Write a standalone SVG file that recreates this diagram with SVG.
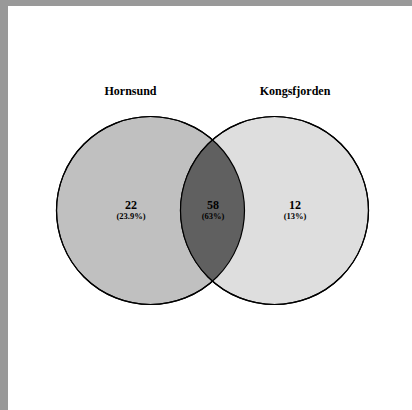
<svg xmlns="http://www.w3.org/2000/svg" width="412" height="410" viewBox="0 0 412 410">
<style>
.t{font-family:"Liberation Serif","Times New Roman",serif;font-weight:bold;text-anchor:middle;fill:#000}
.lbl{font-size:12px}
.num{font-size:12px}
.pct{font-size:8.5px}
.c{stroke:#000;stroke-width:1.2}
</style>
<defs>
<clipPath id="clipL"><circle cx="150.5" cy="210.5" r="94"/></clipPath>
</defs>
<rect x="0" y="0" width="412" height="410" fill="#999999"/>
<rect x="8" y="6" width="404" height="404" fill="#ffffff"/>
<g id="hornsund">
<circle class="c" cx="150.5" cy="210.5" r="94" fill="#c0c0c0"/>
</g>
<g id="kongsfjorden">
<circle class="c" cx="274.5" cy="210.5" r="94" fill="#dedede"/>
</g>
<g id="overlap">
<circle cx="274.5" cy="210.5" r="94" fill="#606060" clip-path="url(#clipL)"/>
<circle cx="150.5" cy="210.5" r="94" fill="none" stroke="#000" stroke-width="1.2"/>
<circle cx="274.5" cy="210.5" r="94" fill="none" stroke="#000" stroke-width="1.2"/>
</g>
<g id="labels">
<text class="t lbl" x="130.5" y="95">Hornsund</text>
<text class="t lbl" x="295" y="95">Kongsfjorden</text>
<text class="t num" x="131" y="208.6">22</text>
<text class="t pct" x="131" y="218.9">(23.9%)</text>
<text class="t num" x="213" y="208.6">58</text>
<text class="t pct" x="213" y="218.9">(63%)</text>
<text class="t num" x="295" y="208.6">12</text>
<text class="t pct" x="295" y="218.9">(13%)</text>
</g>
</svg>
